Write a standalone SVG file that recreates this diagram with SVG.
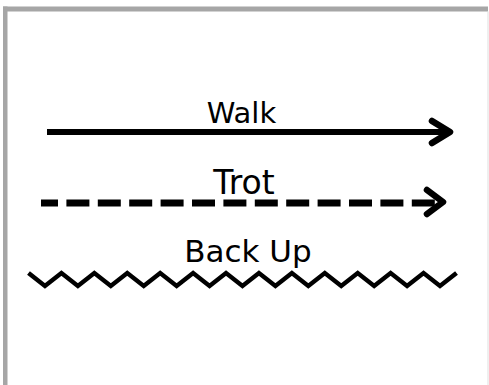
<svg xmlns="http://www.w3.org/2000/svg" width="489" height="385" viewBox="0 0 489 385">
  <style>
    .lbl { font-family: "DejaVu Sans", "Liberation Sans", sans-serif; fill: #000; text-anchor: middle; }
    .ln { fill: none; stroke: #000; }
  </style>
  <rect x="0" y="0" width="489" height="385" fill="#fff"/>
  <g id="frame">
    <rect x="3" y="6.5" width="485" height="5" fill="#a6a6a6"/>
    <rect x="3" y="6.5" width="4.5" height="378.5" fill="#a6a6a6"/>
    <rect x="487.5" y="11.5" width="1" height="373.5" fill="#e0e0e0"/>
  </g>
  <g id="connectors">
    <g id="walk">
      <line class="ln" x1="47" y1="132" x2="448" y2="132" stroke-width="6"/>
      <polyline class="ln" points="432,121 450,132 432,143" stroke-width="6.5" stroke-linecap="round" stroke-linejoin="round"/>
    </g>
    <g id="trot">
      <line class="ln" x1="41" y1="203" x2="438" y2="203" stroke-width="7" stroke-dasharray="23 8.4" stroke-dashoffset="6"/>
      <polyline class="ln" points="427,190 443,202 427,214" stroke-width="6.5" stroke-linecap="round" stroke-linejoin="round"/>
    </g>
    <g id="backup">
      <polyline class="ln" stroke-width="4.5" points="28.5,273 44.96,286 61.42,273 77.88,286 94.34,273 110.8,286 127.26,273 143.72,286 160.18,273 176.64,286 193.1,273 209.56,286 226.02,273 242.48,286 258.94,273 275.4,286 291.86,273 308.32,286 324.78,273 341.24,286 357.7,273 374.16,286 390.62,273 407.08,286 423.54,273 440,286 456.5,273"/>
    </g>
  </g>
  <g id="label-walk"><text class="lbl" x="241.5" y="123" font-size="29">Walk</text></g>
  <g id="label-trot"><text class="lbl" x="244" y="194" font-size="33">Trot</text></g>
  <g id="label-backup"><text class="lbl" x="248" y="262" font-size="31">Back Up</text></g>
</svg>
